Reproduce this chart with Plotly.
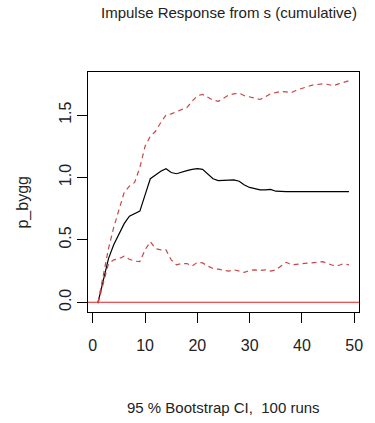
import plotly.graph_objects as go

horizon = list(range(1, 50))
irf = [0.00, 0.17, 0.35, 0.46, 0.55, 0.63, 0.69, 0.71, 0.73, 0.86, 0.99, 1.02, 1.05, 1.07, 1.04,
       1.03, 1.045, 1.055, 1.065, 1.07, 1.065, 1.03, 0.99, 0.975, 0.975, 0.975, 0.98, 0.97, 0.94,
       0.92, 0.91, 0.90, 0.90, 0.905, 0.89, 0.885, 0.886, 0.886, 0.886, 0.886, 0.886, 0.886, 0.887,
       0.887, 0.887, 0.887, 0.887, 0.887, 0.887]
upper = [0.00, 0.22, 0.43, 0.60, 0.75, 0.88, 0.93, 0.96, 1.08, 1.25, 1.33, 1.37, 1.44, 1.50, 1.51,
         1.525, 1.54, 1.56, 1.61, 1.655, 1.665, 1.64, 1.62, 1.61, 1.635, 1.66, 1.67, 1.675, 1.655,
         1.645, 1.635, 1.625, 1.645, 1.67, 1.68, 1.69, 1.685, 1.68, 1.70, 1.715, 1.725, 1.74, 1.745,
         1.75, 1.745, 1.735, 1.75, 1.76, 1.775]
lower = [-0.01, 0.15, 0.31, 0.34, 0.35, 0.37, 0.345, 0.33, 0.325, 0.42, 0.485, 0.43, 0.42, 0.42, 0.34,
         0.30, 0.31, 0.31, 0.29, 0.32, 0.315, 0.29, 0.27, 0.265, 0.255, 0.25, 0.26, 0.25, 0.24,
         0.255, 0.26, 0.255, 0.26, 0.25, 0.26, 0.29, 0.32, 0.30, 0.305, 0.31, 0.31, 0.315, 0.32,
         0.325, 0.31, 0.295, 0.295, 0.31, 0.30]

x_ticks = [0, 10, 20, 30, 40, 50]
y_ticks = [0.0, 0.5, 1.0, 1.5]

title_text = "Impulse Response from s (cumulative)"
y_label = "p_bygg"
sub_text = "95 % Bootstrap CI,  100 runs"

FONT = "Liberation Sans, Arial, sans-serif"
CI_COLOR = "#c84646"

fig = go.Figure()
fig.add_trace(go.Scatter(x=horizon, y=irf, mode="lines",
                         line=dict(color="black", width=1.2)))
fig.add_trace(go.Scatter(x=horizon, y=upper, mode="lines",
                         line=dict(color=CI_COLOR, width=1.2, dash="5px,4px")))
fig.add_trace(go.Scatter(x=horizon, y=lower, mode="lines",
                         line=dict(color=CI_COLOR, width=1.2, dash="5px,4px")))
fig.add_hline(y=0, line=dict(color="#e02020", width=1.2), layer="below")

axis_common = dict(showgrid=False, zeroline=False, showline=True, linecolor="black",
                   linewidth=1, mirror=True, ticks="outside", ticklen=10, tickcolor="black",
                   tickfont=dict(family=FONT, size=16, color="#222"))

fig.update_layout(
    width=375, height=423,
    margin=dict(l=88, r=12, t=72, b=111),
    paper_bgcolor="white", plot_bgcolor="white",
    showlegend=False,
    xaxis=dict(range=[-0.92, 50.92], tickvals=x_ticks, ticktext=[str(v) for v in x_ticks],
               ticklabelstandoff=9, **axis_common),
    yaxis=dict(range=[-0.078, 1.845], tickvals=y_ticks, ticktext=[f"{v:.1f}" for v in y_ticks],
               tickangle=-90, ticklabelstandoff=0, **axis_common),
    annotations=[
        dict(text=title_text, xref="paper", yref="paper", x=0.52, y=1.25,
             showarrow=False, xanchor="center", yanchor="middle",
             font=dict(family=FONT, size=15, color="#222")),
        dict(text=sub_text, xref="paper", yref="paper", x=0.5, y=-0.396,
             showarrow=False, xanchor="center", yanchor="middle",
             font=dict(family=FONT, size=15, color="#222")),
        dict(text=y_label, xref="paper", yref="paper", x=-0.24, y=0.46,
             showarrow=False, xanchor="center", yanchor="middle", textangle=-90,
             font=dict(family=FONT, size=16, color="#222")),
    ],
)

fig.write_html("out.html")
